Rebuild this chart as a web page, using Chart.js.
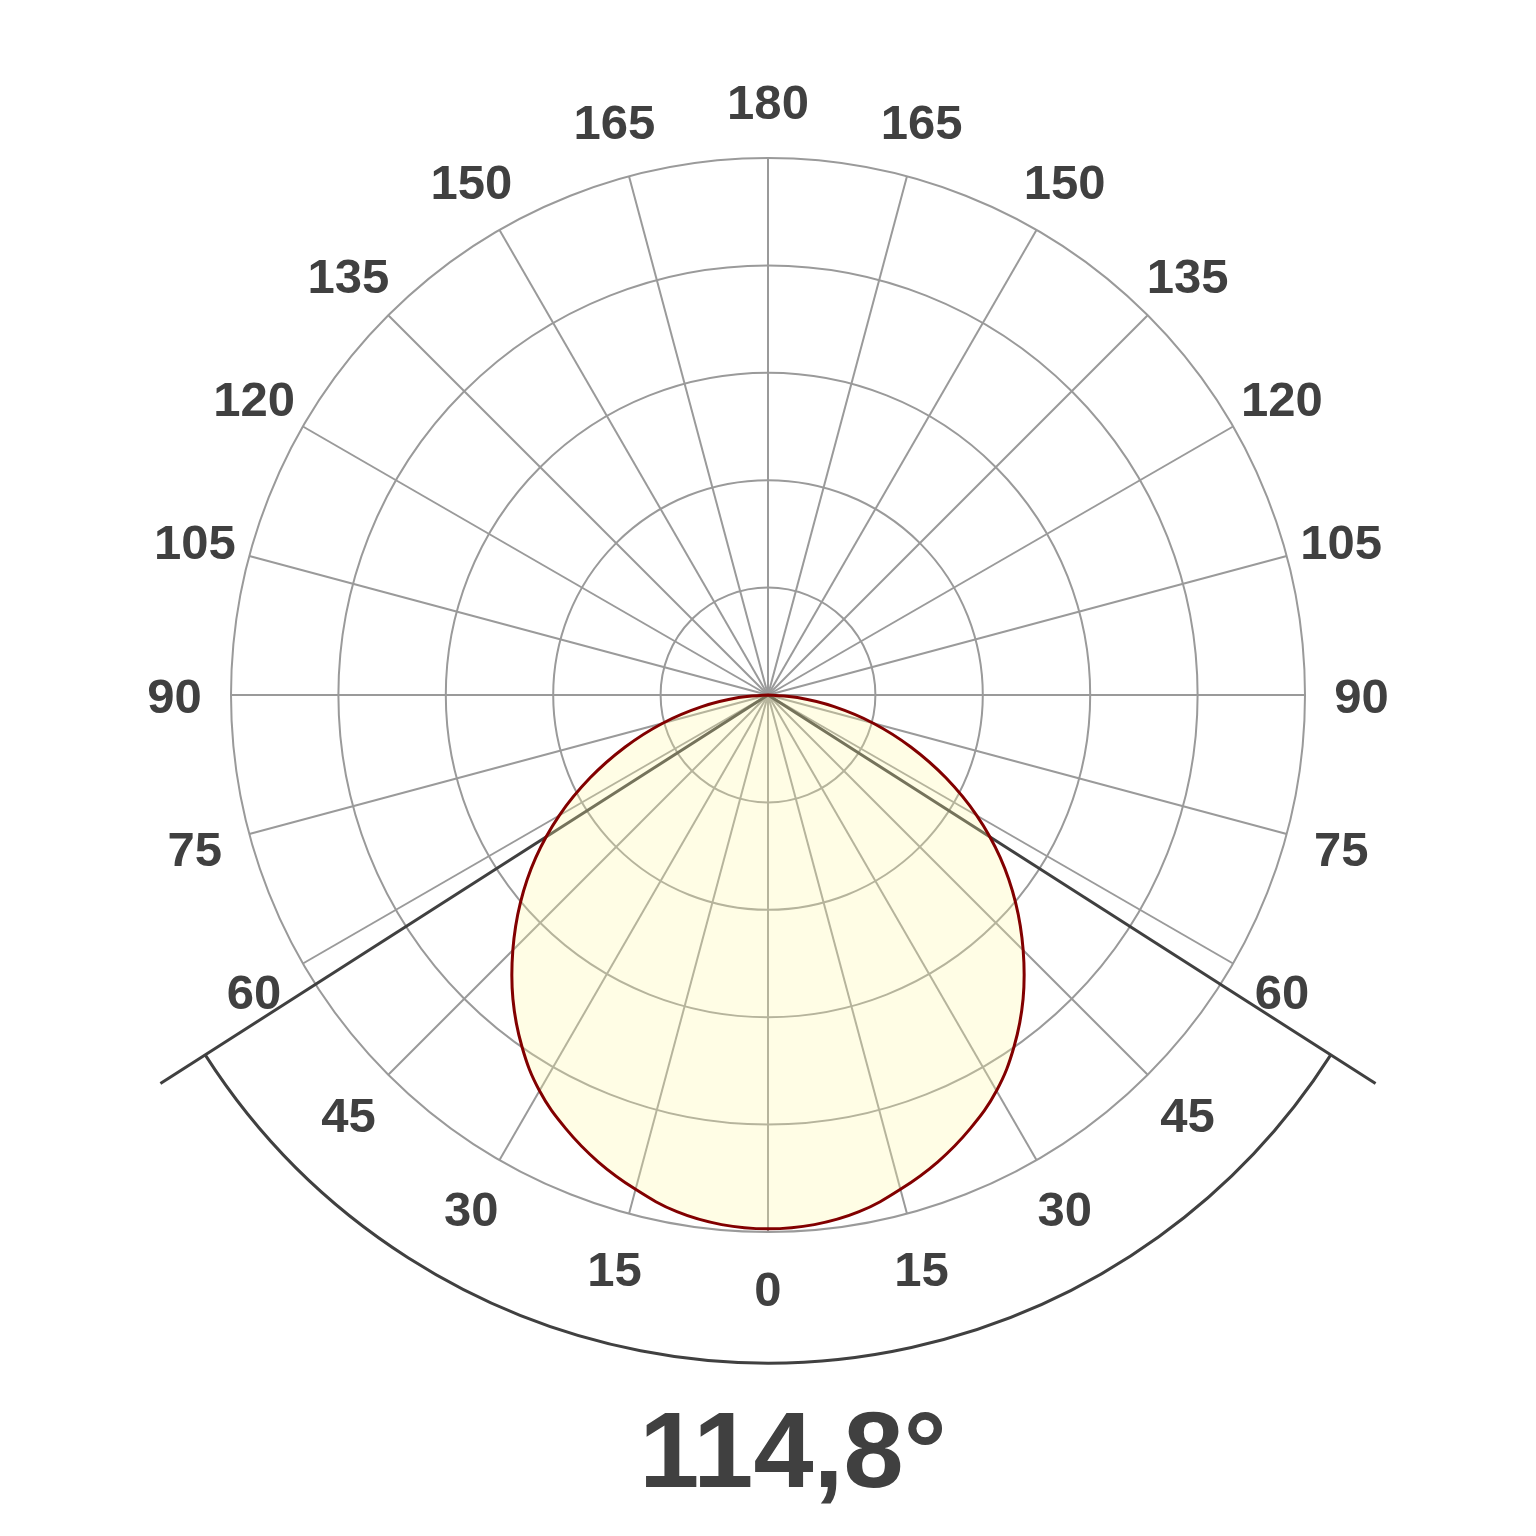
<!DOCTYPE html>
<html>
<head>
<meta charset="utf-8">
<script src="https://cdn.jsdelivr.net/npm/chart.js@4.4.1/dist/chart.umd.min.js"></script>
<style>
html,body{margin:0;padding:0;background:#ffffff;}
#wrap{width:1536px;height:1536px;position:relative;}
</style>
</head>
<body>
<div id="wrap"><canvas id="c"></canvas></div>
<script>
// ---- data ----
const angleStep = 5; // degrees between samples
// gamma angles of the C0 plane, 0..180
const gammaAngles = [0,5,10,15,20,25,30,35,40,45,50,55,60,65,70,75,80,85,90,95,100,105,110,115,120,125,130,135,140,145,150,155,160,165,170,175,180];
// relative luminous intensity (outer ring = 100)
const intensity = [99.4,99.0,97.7,95.3,92.5,89.1,85.1,79.9,73.9,67.2,60.2,52.8,44.9,36.6,28.3,20.3,12.5,5.5,0,0,0,0,0,0,0,0,0,0,0,0,0,0,0,0,0,0,0];
// angle tick labels
const tickLabels = [0,15,30,45,60,75,90,105,120,135,150,165,180];
// rings
const ringMax = 100;
const ringStep = 20;
// beam angle
const beamAngle = [114.8];

// ---- build full-circle (symmetric) series ----
const fullLabels = [];
const fullData = [];
for (let i = 0; i < 360 / angleStep; i++) {
  const a = i * angleStep;
  const g = a <= 180 ? a : 360 - a;
  fullLabels.push(String(g));
  fullData.push(intensity[gammaAngles.indexOf(g)]);
}
const labelIdx = new Set();
tickLabels.forEach(t => { labelIdx.add(t / angleStep); labelIdx.add(((360 - t) % 360) / angleStep); });

const TEXT = '#404040';
const FONT = '"Liberation Sans", Arial, Helvetica, sans-serif';

const beamPlugin = {
  id: 'beam',
  beforeDatasetsDraw(chart) {
    const s = chart.scales.r;
    const ctx = chart.ctx;
    const half = beamAngle[0] / 2 / angleStep;
    const n = fullLabels.length;
    const p0 = s.getPointPositionForValue(0, 0);
    const idxs = [half, n - half];
    ctx.save();
    ctx.strokeStyle = TEXT;
    ctx.lineWidth = 3;
    ctx.lineCap = 'butt';
    idxs.forEach(ix => {
      const pe = s.getPointPositionForValue(ix, 134.3);
      ctx.beginPath();
      ctx.moveTo(p0.x, p0.y);
      ctx.lineTo(pe.x, pe.y);
      ctx.stroke();
    });
    // arc
    const pa = s.getPointPositionForValue(idxs[0], 124.4);
    const pb = s.getPointPositionForValue(idxs[1], 124.4);
    const r = s.getDistanceFromCenterForValue(124.4);
    const aA = Math.atan2(pa.y - s.yCenter, pa.x - s.xCenter);
    const aB = Math.atan2(pb.y - s.yCenter, pb.x - s.xCenter);
    ctx.beginPath();
    ctx.arc(s.xCenter, s.yCenter, r, Math.min(aA, aB), Math.max(aA, aB));
    ctx.stroke();
    ctx.restore();
  },
  afterDraw(chart) {
    const s = chart.scales.r;
    const ctx = chart.ctx;
    ctx.save();
    ctx.fillStyle = TEXT;
    ctx.font = 'bold 49px ' + FONT;
    ctx.textAlign = 'center';
    ctx.textBaseline = 'alphabetic';
    labelIdx.forEach(i => {
      const p = s.getPointPositionForValue(i, 110.5);
      ctx.fillText(fullLabels[i], p.x, p.y + 0.358 * 49);
    });
    ctx.font = 'bold 108px ' + FONT;
    const ty = s.yCenter + s.getDistanceFromCenterForValue(147.5);
    ctx.fillText(beamAngle[0].toFixed(1).replace('.', ',') + '°', s.xCenter + 25, ty);
    ctx.restore();
  }
};

new Chart(document.getElementById('c'), {
  type: 'radar',
  data: {
    labels: fullLabels,
    datasets: [{
      data: fullData,
      borderColor: '#820000',
      borderWidth: 3,
      backgroundColor: 'rgba(255,247,160,0.28)',
      fill: true,
      pointRadius: 0,
      tension: 0.4
    }]
  },
  options: {
    responsive: true,
    maintainAspectRatio: false,
    animation: false,
    layout: { padding: { left: 231, right: 231, top: 158, bottom: 304 } },
    plugins: { legend: { display: false }, tooltip: { enabled: false } },
    scales: {
      r: {
        startAngle: 180,
        min: 0,
        max: ringMax,
        ticks: { display: false, stepSize: ringStep },
        pointLabels: { display: false },
        grid: { circular: true, color: '#9a9a9a', lineWidth: 2 },
        angleLines: {
          display: true,
          color: '#9a9a9a',
          lineWidth: (ctx) => (labelIdx.has(ctx.index) ? 2 : 0)
        }
      }
    }
  },
  plugins: [beamPlugin]
});
</script>
</body>
</html>
